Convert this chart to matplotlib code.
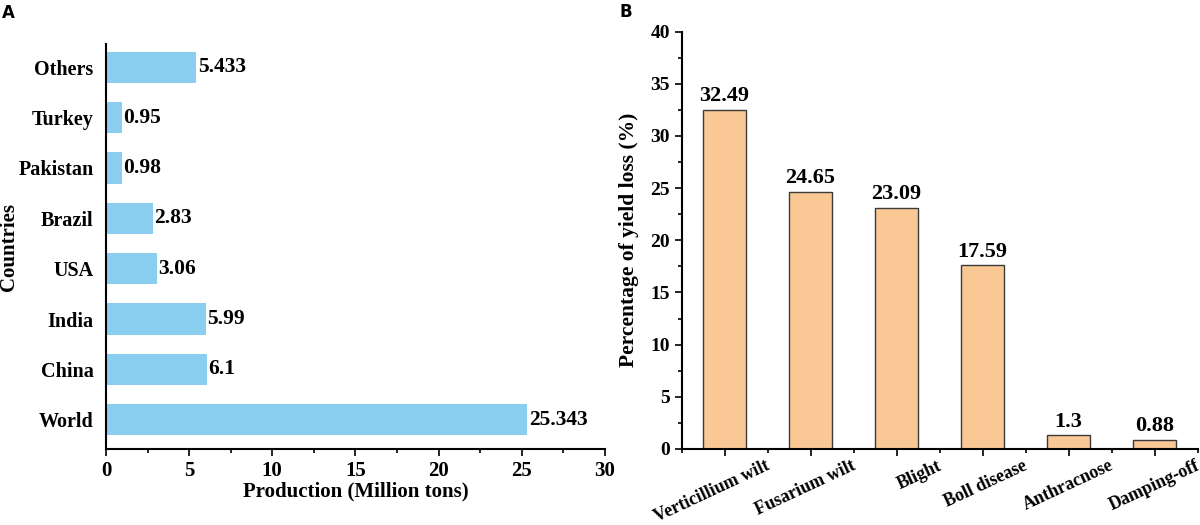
import matplotlib.pyplot as plt
from matplotlib.ticker import MultipleLocator

countries = ['World', 'China', 'India', 'USA', 'Brazil', 'Pakistan', 'Turkey', 'Others']
production = [25.343, 6.1, 5.99, 3.06, 2.83, 0.98, 0.95, 5.433]
production_labels = ['25.343', '6.1', '5.99', '3.06', '2.83', '0.98', '0.95', '5.433']

diseases = ['Verticillium wilt', 'Fusarium wilt', 'Blight', 'Boll disease', 'Anthracnose', 'Damping-off']
yield_loss = [32.49, 24.65, 23.09, 17.59, 1.3, 0.88]
yield_labels = ['32.49', '24.65', '23.09', '17.59', '1.3', '0.88']

plt.rcParams['font.family'] = ['Liberation Serif', 'DejaVu Serif']
plt.rcParams['font.weight'] = 'bold'

fig = plt.figure(figsize=(12, 5.25), dpi=100)

# panel A
ax1 = fig.add_axes([0.0883, 0.1448, 0.4157, 0.7712])
ypos = list(range(len(countries)))
bars = ax1.barh(ypos, production, height=0.62, color='#8bcff0')
for b, lab in zip(bars, production_labels):
    ax1.text(b.get_width() + 0.08, b.get_y() + b.get_height() / 2, lab,
             ha='left', va='center', fontsize=15.5, fontweight='bold')
ax1.set_yticks(ypos)
ax1.set_yticklabels(countries, fontsize=14.5, fontweight='bold')
ax1.tick_params(axis='y', length=0, pad=9)
ax1.set_xlim(0, 30)
ax1.set_ylim(-0.58, 7.46)
ax1.xaxis.set_major_locator(MultipleLocator(5))
ax1.xaxis.set_minor_locator(MultipleLocator(2.5))
ax1.tick_params(axis='x', which='major', length=5, width=1.2, labelsize=15, pad=4)
ax1.tick_params(axis='x', which='minor', length=3, width=1.2)
for lbl in ax1.get_xticklabels():
    lbl.set_fontweight('bold')
ax1.spines['top'].set_visible(False)
ax1.spines['right'].set_visible(False)
ax1.spines['left'].set_linewidth(1.5)
ax1.spines['bottom'].set_linewidth(1.5)
ax1.set_xlabel('Production (Million tons)', fontsize=15, fontweight='bold', labelpad=0)
ax1.set_ylabel('Countries', fontsize=15, fontweight='bold')
ax1.yaxis.set_label_coords(-0.175, 0.5)

# panel B
ax2 = fig.add_axes([0.568, 0.1448, 0.43, 0.7952])
xpos = list(range(len(diseases)))
bars2 = ax2.bar(xpos, yield_loss, width=0.5, color='#f9c895', edgecolor='#3a3a3a', linewidth=1)
for b, lab in zip(bars2, yield_labels):
    ax2.text(b.get_x() + b.get_width() / 2, b.get_height() + 0.35, lab,
             ha='center', va='bottom', fontsize=16, fontweight='bold')
ax2.set_xlim(-0.5, 5.5)
ax2.set_ylim(0, 40)
ax2.set_xticks(xpos)
ax2.set_xticklabels([])
# rotated category labels, right end sits a bit right of each tick
for x, name in zip(xpos, diseases):
    ax2.annotate(name, xy=(x, 0), xycoords=('data', 'axes fraction'),
                 xytext=(29, -6), textcoords='offset points',
                 rotation=25, rotation_mode='anchor', ha='right', va='top',
                 fontsize=13, fontweight='bold', annotation_clip=False)
ax2.xaxis.set_minor_locator(MultipleLocator(0.5))
ax2.yaxis.set_major_locator(MultipleLocator(5))
ax2.yaxis.set_minor_locator(MultipleLocator(2.5))
ax2.tick_params(axis='both', which='major', length=5, width=1.2, labelsize=14)
ax2.tick_params(axis='both', which='minor', length=3, width=1.2)
for lbl in ax2.get_yticklabels():
    lbl.set_fontweight('bold')
ax2.spines['top'].set_visible(False)
ax2.spines['right'].set_visible(False)
ax2.spines['left'].set_linewidth(1.5)
ax2.spines['bottom'].set_linewidth(1.5)
ax2.set_ylabel('Percentage of yield loss (%)', fontsize=15.5, fontweight='bold', labelpad=8)

fig.text(0.002, 0.993, 'A', family='DejaVu Sans', fontsize=12, fontweight='bold', va='top')
fig.text(0.516, 0.995, 'B', family='DejaVu Sans', fontsize=12, fontweight='bold', va='top')

fig.savefig('out.png', dpi=100)
